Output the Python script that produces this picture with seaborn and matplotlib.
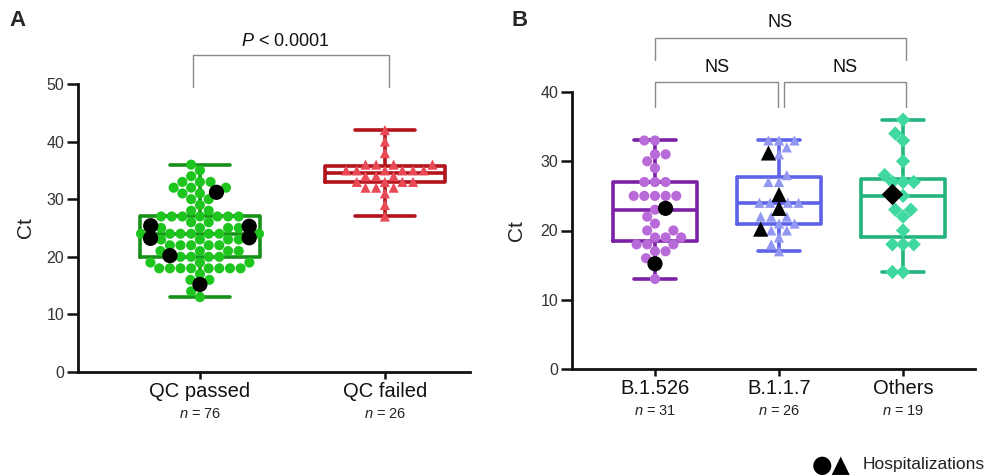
import numpy as np
import pandas as pd
import seaborn as sns
import matplotlib.pyplot as plt

# Panel A: Ct values by QC outcome (hospitalized patients listed apart)
qc_groups = ["QC passed", "QC failed"]
qc_passed_ct = [13, 14, 16, 16, 17, 18, 18, 18, 18, 18, 18, 18, 18, 19, 19, 19,
                20, 20, 20, 20, 21, 21, 21, 21, 22, 22, 22, 22, 22,
                23, 23, 23, 23, 24, 24, 24, 24, 24, 24, 24,
                25, 25, 25, 25, 26, 26, 27, 27, 27, 27, 27, 27, 27,
                28, 28, 29, 30, 30, 31, 31, 32, 32, 32, 33, 33, 33, 34, 35, 36]
qc_passed_hosp = [15.2, 20.2, 23.2, 23.3, 25.3, 25.4, 31.2]
qc_failed_ct = [27, 29, 31, 32, 32, 32, 33, 33, 33, 33, 34, 34, 34, 35, 35, 35, 35,
                35, 35, 36, 36, 36, 36, 38, 40, 42]
qc_failed_hosp = []
qc_n = [76, 26]

# Panel B: Ct values by variant
variants = ["B.1.526", "B.1.1.7", "Others"]
b1526_ct = [13, 16, 17, 17, 18, 18, 18, 19, 19, 19, 20, 20, 21, 22, 23,
            25, 25, 25, 25, 25, 27, 27, 27, 29, 30, 31, 31, 33, 33]
b1526_hosp = [15.2, 23.2]
b117_ct = [17, 18, 19, 20, 20, 21, 21, 22, 22, 22, 24, 24, 24, 24,
           27, 27, 28, 31, 32, 33, 33, 33]
b117_hosp = [20.2, 23.2, 25.2, 31.2]
others_ct = [14, 14, 18, 18, 18, 20, 22, 23, 23, 25, 27, 27, 27, 28, 30, 33, 34, 36]
others_hosp = [25.2]
variant_n = [31, 26, 19]


def make_df(group, values, hosp):
    return pd.DataFrame({"group": group,
                         "ct": list(values) + list(hosp),
                         "hosp": [False] * len(values) + [True] * len(hosp)})


df_a = pd.concat([make_df("QC passed", qc_passed_ct, qc_passed_hosp),
                  make_df("QC failed", qc_failed_ct, qc_failed_hosp)], ignore_index=True)
df_b = pd.concat([make_df("B.1.526", b1526_ct, b1526_hosp),
                  make_df("B.1.1.7", b117_ct, b117_hosp),
                  make_df("Others", others_ct, others_hosp)], ignore_index=True)

sns.set_style("ticks")
plt.rcParams["font.family"] = ["Liberation Sans", "DejaVu Sans"]
plt.rcParams["mathtext.fontset"] = "custom"
plt.rcParams["mathtext.it"] = "Liberation Sans:italic"
plt.rcParams["mathtext.rm"] = "Liberation Sans"

fig = plt.figure(figsize=(9.88, 4.76), dpi=100)
ax_a = fig.add_axes([78 / 988, 1 - 372 / 476, 392 / 988, 288 / 476])
ax_b = fig.add_axes([572 / 988, 1 - 369 / 476, 403 / 988, 277 / 476])

point_cols_a = {"QC passed": "#1fc51f", "QC failed": "#ea4a55"}
box_cols_a = {"QC passed": "#17901a", "QC failed": "#b3131b"}
markers_a = {"QC passed": "o", "QC failed": "^"}
point_cols_b = {"B.1.526": "#b96ad9", "B.1.1.7": "#9298f2", "Others": "#3fd9a0"}
box_cols_b = {"B.1.526": "#7c21a6", "B.1.1.7": "#5d62e8", "Others": "#22b47c"}
markers_b = {"B.1.526": "o", "B.1.1.7": "^", "Others": "D"}

swarms = []


def draw_panel(ax, df, order, pcols, bcols, marks, width, msize):
    sns.boxplot(data=df, x="group", y="ct", hue="group", order=order,
                hue_order=order, palette=bcols, whis=(0, 100), fill=False,
                width=width, linewidth=2.6, showfliers=False, legend=False,
                ax=ax, zorder=2)
    for g in order:
        n_before = len(ax.collections)
        sub = df[df["group"] == g]
        sns.swarmplot(data=sub, x="group", y="ct", order=order, hue="hosp",
                      hue_order=[False, True],
                      palette={False: pcols[g], True: "black"},
                      marker=marks[g], size=msize, linewidth=0, legend=False,
                      ax=ax, zorder=3)
        swarms.extend(ax.collections[n_before:])


draw_panel(ax_a, df_a, qc_groups, point_cols_a, box_cols_a, markers_a, 0.65, 7.3)
draw_panel(ax_b, df_b, variants, point_cols_b, box_cols_b, markers_b, 0.68, 7.3)

ax_a.set_ylim(0, 50)
ax_a.set_yticks(range(0, 51, 10))
ax_a.set_xlim(-0.659, 1.46)
ax_b.set_ylim(0, 40)
ax_b.set_yticks(range(0, 41, 10))
ax_b.set_xlim(-0.669, 2.58)

for ax, groups, counts, lab_x in [(ax_a, qc_groups, qc_n, -43 / 392),
                                  (ax_b, variants, variant_n, -46 / 403)]:
    sns.despine(ax=ax)
    for s in ["left", "bottom"]:
        ax.spines[s].set_linewidth(2)
        ax.spines[s].set_color("#111111")
    ax.tick_params(axis="y", length=8, width=1.8, labelsize=11.5, colors="#111111",
                   labelcolor="#333333", pad=2)
    ax.tick_params(axis="x", length=5, width=1.8, labelsize=14.5, colors="#111111",
                   labelcolor="#111111", pad=2)
    ax.set_xlabel("")
    ax.set_ylabel("Ct", fontsize=15, color="#222222")
    ax.yaxis.set_label_coords(lab_x, 0.5)
    for i, n in enumerate(counts):
        ax.annotate(f"$n$ = {n}", xy=(i, 0), xycoords=("data", "axes fraction"),
                    xytext=(0, -30.5), textcoords="offset points", ha="center",
                    va="center", fontsize=10.5, color="#222222")

bracket = dict(color="#8a8a8a", lw=1, clip_on=False)
ax_a.plot([-0.04, -0.04, 1.02, 1.02], [49.5, 55.0, 55.0, 49.5], **bracket)
ax_a.text(0.46, 57.4, "$P$ < 0.0001", ha="center", va="center", fontsize=13,
          color="#111111", clip_on=False)

ax_b.plot([0, 0, 0.99, 0.99], [37.8, 41.4, 41.4, 37.8], **bracket)
ax_b.plot([1.04, 1.04, 2.02, 2.02], [37.8, 41.4, 41.4, 37.8], **bracket)
ax_b.plot([0, 0, 2.02, 2.02], [44.6, 47.8, 47.8, 44.6], **bracket)
ax_b.text(0.5, 43.6, "NS", ha="center", va="center", fontsize=13, color="#111111")
ax_b.text(1.53, 43.6, "NS", ha="center", va="center", fontsize=13, color="#111111")
ax_b.text(1.01, 50.1, "NS", ha="center", va="center", fontsize=13, color="#111111",
          clip_on=False)

fig.text(18 / 988, 1 - 20 / 476, "A", fontsize=16, fontweight="bold", ha="center",
         va="center")
fig.text(520 / 988, 1 - 20 / 476, "B", fontsize=16, fontweight="bold", ha="center",
         va="center")

fig.text(812 / 988, 1 - 465 / 476, "●▲", fontsize=17, ha="left", va="center",
         family=["DejaVu Sans"], color="black")
fig.text(985 / 988, 1 - 465 / 476, "Hospitalizations", fontsize=12.5, ha="right",
         va="center", color="#222222")

# lay out the swarms with equal sizes, then freeze them and enlarge the
# hospitalized (black) points
fig.canvas.draw()
for coll in swarms:
    if "draw" in coll.__dict__:
        del coll.draw
    fc = coll.get_facecolors()
    if len(fc) > 1:
        is_black = fc[:, :3].sum(axis=1) < 0.05
        coll.set_sizes(np.where(is_black, 120, 7.3 ** 2))

fig.savefig("out.png", dpi=100)
